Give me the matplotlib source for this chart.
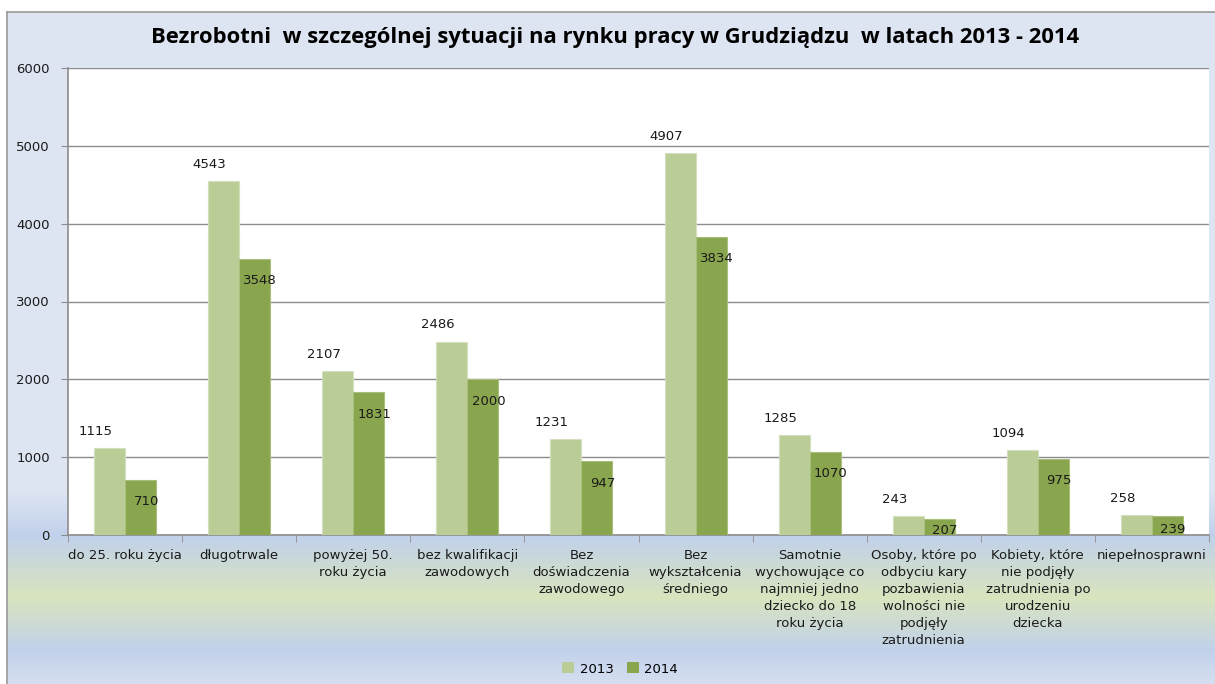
import numpy as np
import matplotlib
matplotlib.use('Agg')
import matplotlib.pyplot as plt
from matplotlib.patches import Patch

# data
categories = [
    'do 25. roku życia',
    'długotrwale',
    'powyżej 50.\nroku życia',
    'bez kwalifikacji\nzawodowych',
    'Bez\ndoświadczenia\nzawodowego',
    'Bez\nwykształcenia\nśredniego',
    'Samotnie\nwychowujące co\nnajmniej jedno\ndziecko do 18\nroku życia',
    'Osoby, które po\nodbyciu kary\npozbawienia\nwolności nie\npodjęły\nzatrudnienia',
    'Kobiety, które\nnie podjęły\nzatrudnienia po\nurodzeniu\ndziecka',
    'niepełnosprawni',
]
values_2013 = [1115, 4543, 2107, 2486, 1231, 4907, 1285, 243, 1094, 258]
values_2014 = [710, 3548, 1831, 2000, 947, 3834, 1070, 207, 975, 239]
series_names = ['2013', '2014']
yticks = [0, 1000, 2000, 3000, 4000, 5000, 6000]

c13 = '#bbcd96'
c14 = '#89a54e'
grey = '#8c8c8c'

W, H = 1215, 684
fig = plt.figure(figsize=(W / 100, H / 100), dpi=100)
fig.patch.set_facecolor('white')

# chart area background with the soft gradient at the bottom
bg = fig.add_axes([7 / W, 0, 1 - 7 / W, (H - 12) / H], zorder=-5)
rows = np.arange(12, H)
stops_y = [12, 490, 535, 597, 650, 684]
light = (222, 229, 242)
blue = (193, 209, 235)
yellow = (217, 228, 190)
stop_cols = [light, light, blue, yellow, blue, (214, 223, 240)]
grad = np.zeros((len(rows), 1, 3))
for k in range(3):
    grad[:, 0, k] = np.interp(rows, stops_y, [c[k] for c in stop_cols]) / 255
bg.imshow(grad, aspect='auto', extent=[0, 1, 0, 1])
bg.set_xticks([])
bg.set_yticks([])
for s in ['right', 'bottom']:
    bg.spines[s].set_visible(False)
for s in ['left', 'top']:
    bg.spines[s].set_color('#9a9a9a')
    bg.spines[s].set_linewidth(1.2)

# plot area
ax = fig.add_axes([68 / W, (H - 535) / H, 1141 / W, 467 / H])
ax.set_facecolor('white')

x = np.arange(len(categories))
bw = 0.272
ax.bar(x - bw / 2, values_2013, bw, color=c13, edgecolor='#d3e0bf', linewidth=0.8, zorder=3)
ax.bar(x + bw / 2, values_2014, bw, color=c14, edgecolor='#a9bf7c', linewidth=0.8, zorder=3)

ax.set_xlim(-0.5, len(categories) - 0.5)
ax.set_ylim(0, 6000)
ax.set_yticks(yticks)
ax.yaxis.grid(True, color=grey, linewidth=1.0, zorder=0)
ax.set_axisbelow(True)

ax.set_xticks(x)
ax.set_xticklabels(categories, fontsize=9.5, linespacing=1.4, color='#1a1a1a')
ax.set_xticks(np.arange(-0.5, len(categories)), minor=True)
ax.tick_params(axis='x', which='major', length=0, pad=10)
ax.tick_params(axis='x', which='minor', length=5, color=grey, direction='out')
ax.tick_params(axis='y', length=5, color=grey, labelsize=9.5, pad=8, labelcolor='#1a1a1a')

for s in ['top', 'right']:
    ax.spines[s].set_visible(False)
for s in ['left', 'bottom']:
    ax.spines[s].set_color(grey)
    ax.spines[s].set_linewidth(1.2)

# value labels: 2013 above the bar (shifted left), 2014 inside near the top
for xi, v in zip(x, values_2013):
    ax.annotate(str(v), (xi - bw / 2, v), xytext=(-10, 12), textcoords='offset points',
                ha='center', va='center', fontsize=9.5, color='#1a1a1a', zorder=5)
for xi, v in zip(x, values_2014):
    ax.annotate(str(v), (xi + bw / 2, max(v - 280, v * 0.3)), xytext=(4, 0),
                textcoords='offset points', ha='center', va='center',
                fontsize=9.5, color='#1a1a1a', zorder=5)

fig.text(615 / W, 1 - 37 / H,
         'Bezrobotni  w szczególnej sytuacji na rynku pracy w Grudziądzu  w latach 2013 - 2014',
         ha='center', va='center', fontsize=15.8, fontweight='bold', family='Open Sans')

handles = [Patch(facecolor=c13), Patch(facecolor=c14)]
fig.legend(handles, series_names, loc='center', bbox_to_anchor=(620 / W, 1 - 669 / H),
           ncol=2, frameon=False, fontsize=9.5, handlelength=0.9, handleheight=0.9,
           handletextpad=0.4, columnspacing=1.0)

fig.savefig('out.png', dpi=100)
